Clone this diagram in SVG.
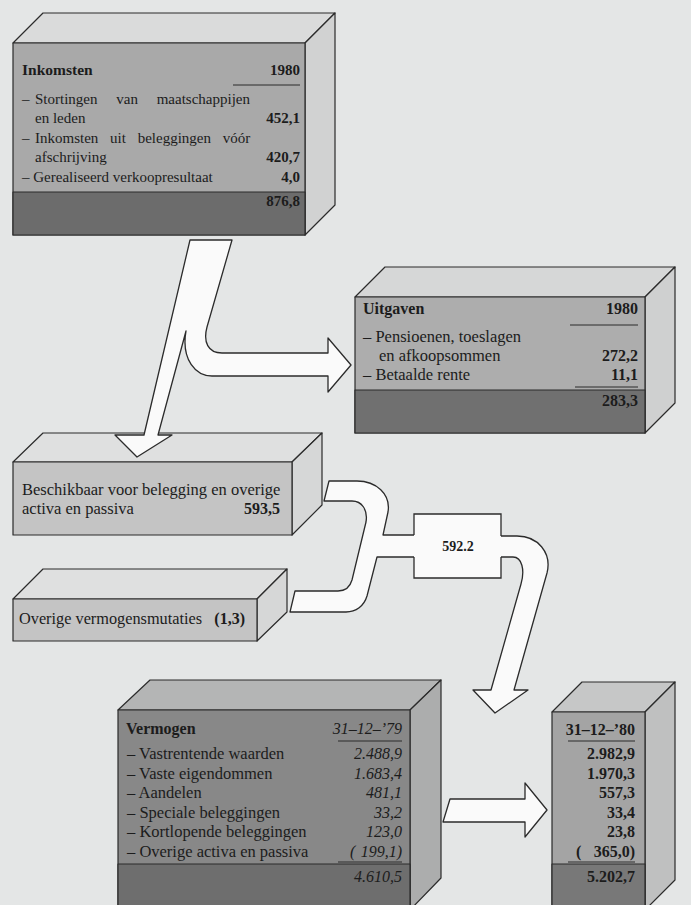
<svg xmlns="http://www.w3.org/2000/svg" width="691" height="905" viewBox="0 0 691 905">
<style>
.t{font-family:"Liberation Serif","Times New Roman",serif;font-size:16px;fill:#1c1c1c}
.s{font-size:15px}
.b{font-weight:bold}
.i{font-style:italic}
.e{text-anchor:end}
.m{text-anchor:middle}
.o{stroke:#2b2b2b;stroke-width:1.2;stroke-linejoin:round}
.ar{fill:#fafafa;stroke:#2b2b2b;stroke-width:1.3;stroke-linejoin:round}
.ul{stroke:#2b2b2b;stroke-width:1;fill:none}
</style>
<rect width="691" height="905" fill="#e4e6e6"/>

<g id="inkomsten">
<polygon class="o" fill="#dadbdb" points="13,43 43,13 335,13 305,43"/>
<polygon class="o" fill="#d1d2d2" points="305,43 335,13 335,205 305,235"/>
<rect class="o" x="13" y="43" width="292" height="192" fill="#a9a9a9"/>
<rect class="o" x="13" y="192" width="292" height="43" fill="#6c6c6c"/>
<text class="t b" x="22" y="75" style="font-size:15.5px">Inkomsten</text>
<text class="t b e" x="300" y="75" style="font-size:15px">1980</text>
<line class="ul" x1="233" y1="85" x2="300" y2="85"/>
<text class="t s" x="22" y="104">–</text>
<text class="t s" x="35" y="104" style="word-spacing:15px">Stortingen van maatschappijen</text>
<text class="t s" x="35" y="123">en leden</text>
<text class="t b e s" x="300" y="123">452,1</text>
<text class="t s" x="22" y="143">–</text>
<text class="t s" x="35" y="143" style="word-spacing:8px">Inkomsten uit beleggingen vóór</text>
<text class="t s" x="35" y="162">afschrijving</text>
<text class="t b e s" x="300" y="162">420,7</text>
<text class="t s" x="22" y="182">– Gerealiseerd verkoopresultaat</text>
<text class="t b e s" x="300" y="182">4,0</text>
<text class="t b e s" x="300" y="206">876,8</text>
</g>

<g id="uitgaven">
<polygon class="o" fill="#d6d7d7" points="355,297 385,267 675,267 645,297"/>
<polygon class="o" fill="#cfd0d0" points="645,297 675,267 675,403 645,433"/>
<rect class="o" x="355" y="297" width="290" height="136" fill="#adadad"/>
<rect class="o" x="355" y="390" width="290" height="43" fill="#707070"/>
<text class="t b" x="363" y="314">Uitgaven</text>
<text class="t b e" x="638" y="314">1980</text>
<line class="ul" x1="570" y1="325" x2="638" y2="325"/>
<text class="t" x="363" y="342" style="font-size:16.5px">– Pensioenen, toeslagen</text>
<text class="t" x="379" y="361" style="font-size:16.5px">en afkoopsommen</text>
<text class="t b e" x="638" y="361">272,2</text>
<text class="t" x="363" y="380" style="font-size:16.5px">– Betaalde rente</text>
<text class="t b e" x="638" y="380">11,1</text>
<line class="ul" x1="575" y1="387" x2="638" y2="387"/>
<text class="t b e" x="638" y="406">283,3</text>
</g>

<g id="beschikbaar">
<polygon class="o" fill="#dfe0e0" points="13,462 43,433 322,433 292,462"/>
<polygon class="o" fill="#d6d7d7" points="292,462 322,433 322,505 292,535"/>
<rect class="o" x="13" y="462" width="279" height="73" fill="#c4c4c4"/>
<text class="t" x="22" y="495" style="font-size:16.5px">Beschikbaar voor belegging en overige</text>
<text class="t" x="22" y="514" style="font-size:16.5px">activa en passiva</text>
<text class="t b e" x="280" y="514">593,5</text>
</g>

<g id="overige">
<polygon class="o" fill="#dfe0e0" points="13,599 43,569 287,569 257,599"/>
<polygon class="o" fill="#d6d7d7" points="257,599 287,569 287,612 257,641"/>
<rect class="o" x="13" y="599" width="244" height="42" fill="#c4c4c4"/>
<text class="t" x="19" y="624" style="font-size:16.3px">Overige vermogensmutaties</text>
<text class="t b e" x="245" y="624">(1,3)</text>
</g>

<g id="vermogen79">
<polygon class="o" fill="#b4b5b5" points="118,710 150,680 441,680 410,710"/>
<polygon class="o" fill="#acadad" points="410,710 441,680 441,878 410,910"/>
<rect class="o" x="118" y="710" width="292" height="200" fill="#888888"/>
<rect class="o" x="118" y="864" width="292" height="46" fill="#6e6e6e"/>
<text class="t b" x="126" y="734">Vermogen</text>
<text class="t i e" x="402" y="734">31–12–’79</text>
<line class="ul" x1="338" y1="741" x2="402" y2="741"/>
<text class="t" x="127" y="759" style="font-size:16.5px">– Vastrentende waarden</text>
<text class="t" x="127" y="778.5" style="font-size:16.5px">– Vaste eigendommen</text>
<text class="t" x="127" y="798" style="font-size:16.5px">– Aandelen</text>
<text class="t" x="127" y="817.5" style="font-size:16.5px">– Speciale beleggingen</text>
<text class="t" x="127" y="837" style="font-size:16.5px">– Kortlopende beleggingen</text>
<text class="t" x="127" y="856.5" style="font-size:16.5px">– Overige activa en passiva</text>
<text class="t i e" x="402" y="759">2.488,9</text>
<text class="t i e" x="402" y="778.5">1.683,4</text>
<text class="t i e" x="402" y="798">481,1</text>
<text class="t i e" x="402" y="817.5">33,2</text>
<text class="t i e" x="402" y="837">123,0</text>
<text class="t i" x="350" y="856.5">(</text>
<text class="t i e" x="402" y="856.5">199,1)</text>
<line class="ul" x1="338" y1="862" x2="402" y2="862"/>
<text class="t i e" x="402" y="882">4.610,5</text>
</g>

<g id="vermogen80">
<polygon class="o" fill="#c6c7c7" points="552,712 582,682 675,682 645,712"/>
<polygon class="o" fill="#bfc0c0" points="645,712 675,682 675,880 645,910"/>
<rect class="o" x="552" y="712" width="93" height="198" fill="#a4a4a4"/>
<rect class="o" x="552" y="864" width="93" height="46" fill="#787878"/>
<text class="t b e" x="635" y="735">31–12–’80</text>
<line class="ul" x1="568" y1="741" x2="635" y2="741"/>
<text class="t b e" x="635" y="759">2.982,9</text>
<text class="t b e" x="635" y="778.5">1.970,3</text>
<text class="t b e" x="635" y="798">557,3</text>
<text class="t b e" x="635" y="817.5">33,4</text>
<text class="t b e" x="635" y="837">23,8</text>
<text class="t b" x="576" y="856.5">(</text>
<text class="t b e" x="635" y="856.5">365,0)</text>
<line class="ul" x1="568" y1="862" x2="635" y2="862"/>
<text class="t b e" x="635" y="882">5.202,7</text>
</g>

<g id="connectors">
<path class="ar" d="M190,240 L232,240 L207,327 C203,342 208,353 222,353 L328,353 L328,338 L351,365 L328,392 L328,376 L212,376 C196,376 181,360 186,331 L158,435 L172,435 L137,457 L115,435 L144,435 Z"/>
<path class="ar" d="M329,481 L357,481 C376,481 391,494 388,512 L383,535 L420,535 L420,557 L377,557 L367,596 C364,606 356,612 346,612 L290,612 L295,591 L338,591 C345,591 350,587 352,580 L366,522 C368,510 362,501 352,501 L324,501 Z"/>
<path class="ar" d="M495,536 L517,536 C538,536 552,553 547,573 L514,690 L528,690 L495,713 L473,690 L491,690 L521,584 C525,570 522,557 513,557 L495,557 Z"/>
<path class="ar" d="M450,799 L525,799 L525,783 L547,810 L525,837 L525,822 L443,822 Z"/>
</g>

<g id="n592">
<rect x="414" y="514" width="87" height="64" fill="#fafafa"/>
<path class="ul" style="stroke-width:1.3" d="M414,535 V514 H501 V536 M501,557 V578 H414 V557"/>
<text class="t b m" x="458" y="551" style="font-size:14px">592.2</text>
</g>
</svg>
